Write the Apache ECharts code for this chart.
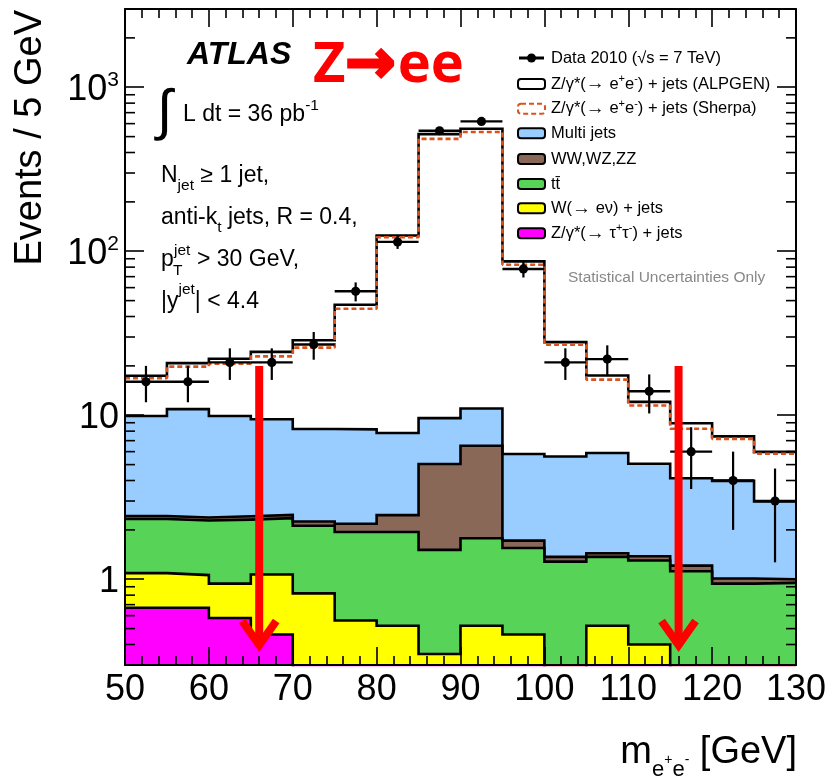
<!DOCTYPE html>
<html>
<head>
<meta charset="utf-8">
<title>Z → ee, N_jet ≥ 1</title>
<script src="https://cdn.jsdelivr.net/npm/echarts@6/dist/echarts.min.js"></script>
<style>
  html, body { margin: 0; padding: 0; background: #ffffff; }
  #main { width: 831px; height: 779px; }
</style>
</head>
<body>
<div id="main"></div>
<script>
// ---- binning (m_ee in GeV, 5 GeV bins) ----
const massEdges = [50, 55, 60, 65, 70, 75, 80, 85, 90, 95, 100, 105, 110, 115, 120, 125, 130];

// ---- observed events per bin ----
const dataCounts = [16, 16, 21, 21, 27, 57, 114, 543, 619, 78, 21, 22, 14, 6, 4, 3];

// ---- expected events per bin, one array per process ----
const zTauTau  = [0.67, 0.67, 0.58, 0.46, 0.22, 0.18, 0.15, 0.12, 0.12, 0.10, 0.08, 0.08, 0.07, 0.06, 0.05, 0.05];
const wJets    = [0.42, 0.39, 0.36, 0.61, 0.60, 0.38, 0.37, 0.23, 0.40, 0.36, 0.16, 0.44, 0.33, 0.16, 0.15, 0.13];
const ttbar    = [1.24, 1.22, 1.37, 1.29, 1.30, 1.38, 1.42, 1.16, 1.26, 1.09, 1.04, 0.85, 0.90, 0.90, 0.74, 0.77];
const diboson  = [0.10, 0.10, 0.11, 0.11, 0.13, 0.24, 0.52, 3.53, 4.73, 0.17, 0.09, 0.07, 0.08, 0.09, 0.07, 0.05];
const multiJet = [7.47, 8.52, 7.48, 6.98, 6.00, 6.02, 5.34, 4.56, 4.49, 4.08, 4.23, 4.44, 3.68, 2.92, 2.97, 1.98];
const zeeAlpgen = [7.5, 9.9, 12.2, 14.9, 20.4, 39.0, 117, 508, 547, 81, 22.3, 11.6, 7.0, 4.8, 3.45, 3.0];
const zeeSherpa = [6.9, 8.9, 10.7, 13.4, 17.6, 36.4, 114, 475, 522, 77, 21.3, 10.6, 6.4, 4.15, 3.2, 2.84];

// ---- axes ----
const X_MIN = 50, X_MAX = 130, X_STEP = 10;
const Y_MIN = 0.3, Y_MAX = 3000;
const yMinorTicks = [0.4, 0.5, 0.6, 0.7, 0.8, 0.9,
                     2, 3, 4, 5, 6, 7, 8, 9,
                     20, 30, 40, 50, 60, 70, 80, 90,
                     200, 300, 400, 500, 600, 700, 800, 900, 2000];

// mass window markers
const massWindow = [66, 116];
const arrowTop = 20, arrowTip = 0.355;

const FONT = "'Liberation Sans', Arial, Helvetica, sans-serif";
const LINE_W = 2.6;

// cumulative stack levels, bottom to top
function addArrays(a, b) { return a.map((v, i) => v + b[i]); }
const lvZtt = zTauTau.slice();
const lvW   = addArrays(lvZtt, wJets);
const lvTt  = addArrays(lvW, ttbar);
const lvVV  = addArrays(lvTt, diboson);
const lvMJ  = addArrays(lvVV, multiJet);
const lvAlp = addArrays(lvMJ, zeeAlpgen);
const lvShp = addArrays(lvMJ, zeeSherpa);

// histogram as step points on the left bin edges, closed at the last edge
function stepData(levels) {
  const pts = levels.map((v, i) => [massEdges[i], v]);
  pts.push([massEdges[massEdges.length - 1], levels[levels.length - 1]]);
  return pts;
}
const binCenters = dataCounts.map((_, i) => (massEdges[i] + massEdges[i + 1]) / 2);

function histSeries(name, levels, fill) {
  return {
    name: name, type: 'line', step: 'end', xAxisIndex: 0, yAxisIndex: 0,
    data: stepData(levels), symbol: 'none', silent: true, clip: true,
    lineStyle: { color: '#000', width: LINE_W, join: 'miter' },
    areaStyle: { color: fill, opacity: 1, origin: 'start' },
    z: 2
  };
}

const axisLineStyle = { color: '#000', width: 2 };
const tickStyle = { color: '#000', width: 1.6 };

function xAxisDef(pos, showLabel) {
  return {
    type: 'value', position: pos, min: X_MIN, max: X_MAX, interval: X_STEP, z: 10,
    axisLine: { show: true, onZero: false, lineStyle: axisLineStyle },
    axisTick: { show: true, inside: true, length: 18, lineStyle: tickStyle },
    minorTick: { show: true, splitNumber: 5, length: 9, lineStyle: tickStyle },
    splitLine: { show: false }, minorSplitLine: { show: false },
    axisLabel: { show: showLabel, fontSize: 36, fontFamily: FONT, color: '#000', margin: 7 }
  };
}
function yLabel(value) {
  const lg = Math.log10(value);
  const e = Math.round(lg);
  if (Math.abs(lg - e) > 1e-6) return '';
  if (e === 0) return '{b|1}';
  if (e === 1) return '{b|10}';
  return '{b|10}{s|' + e + '}';
}
function yAxisDef(pos, showLabel) {
  return {
    type: 'log', logBase: 10, position: pos, min: Y_MIN, max: Y_MAX, z: 10,
    axisLine: { show: true, onZero: false, lineStyle: axisLineStyle },
    axisTick: { show: true, inside: true, length: 19, lineStyle: tickStyle },
    minorTick: { show: false }, splitLine: { show: false }, minorSplitLine: { show: false },
    axisLabel: {
      show: showLabel, formatter: yLabel, margin: 6, padding: [6, 0, 0, 0],
      rich: {
        b: { fontSize: 36, lineHeight: 40, fontFamily: FONT, color: '#000' },
        s: { fontSize: 21, lineHeight: 21, padding: [0, 0, 20, 0], fontFamily: FONT, color: '#000' }
      }
    }
  };
}

// rich-text helpers: shifted tokens for super- and subscripts
function tok(size, offset, extra) {
  const t = { fontSize: size, lineHeight: size, fontFamily: FONT, fill: '#000',
              padding: offset >= 0 ? [2 * offset, 0, 0, 0] : [0, 0, -2 * offset, 0] };
  return Object.assign(t, extra || {});
}
function txt(x, y, text, opts) {
  opts = opts || {};
  return {
    type: 'text', x: x, y: y, z: 100, silent: true,
    rotation: opts.rotation || 0,
    style: {
      text: text, fontSize: opts.size || 23, fontFamily: opts.family || FONT,
      fontWeight: opts.weight || 'normal', fontStyle: opts.style || 'normal',
      fill: opts.color || '#000', lineHeight: opts.lineHeight || 44,
      textAlign: opts.align || 'left', textVerticalAlign: 'middle',
      rich: opts.rich || {}
    }
  };
}

const plotRich = {
  sub: tok(15.5, 10),
  sup: tok(15.5, -9),
  supj: tok(15.5, -12)
};
const legRich = { sup: tok(11, -5), ar: { fontSize: 19, lineHeight: 24, fontFamily: FONT, fill: '#000' } };

// legend
const LEG_X = 518, LEG_TX = 551;
const legendRows = [
  { y: 58,    kind: 'data',   text: 'Data 2010 (√s = 7 TeV)' },
  { y: 84,    kind: 'box', fill: '#ffffff', stroke: '#000', text: 'Z/γ*({ar|→} e{sup|+}e{sup|-}) + jets (ALPGEN)' },
  { y: 108.7, kind: 'box', fill: '#ffffff', stroke: '#d9531e', dash: [5, 3], text: 'Z/γ*({ar|→} e{sup|+}e{sup|-}) + jets (Sherpa)' },
  { y: 133.3, kind: 'box', fill: '#99ccff', stroke: '#000', text: 'Multi jets' },
  { y: 159,   kind: 'box', fill: '#8a6858', stroke: '#000', text: 'WW,WZ,ZZ' },
  { y: 184,   kind: 'box', fill: '#57d357', stroke: '#000', text: 'tt\u0304' },
  { y: 208.3, kind: 'box', fill: '#ffff00', stroke: '#000', text: 'W({ar|→} eν) + jets' },
  { y: 233.3, kind: 'box', fill: '#ff00ff', stroke: '#000', text: 'Z/γ*({ar|→} τ{sup|+}τ{sup|-}) + jets' }
];
const legendEls = [];
legendRows.forEach(function (r) {
  if (r.kind === 'data') {
    legendEls.push({ type: 'line', z: 100, shape: { x1: LEG_X + 1, y1: r.y, x2: LEG_X + 26, y2: r.y },
                     style: { stroke: '#000', lineWidth: 3 } });
    legendEls.push({ type: 'circle', z: 100, shape: { cx: LEG_X + 13.5, cy: r.y, r: 4.5 }, style: { fill: '#000' } });
  } else {
    legendEls.push({ type: 'rect', z: 100, shape: { x: LEG_X, y: r.y - 5, width: 27, height: 10, r: 3 },
                     style: { fill: r.fill, stroke: r.stroke, lineWidth: 2, lineDash: r.dash || null } });
  }
  legendEls.push(txt(LEG_TX, r.y, r.text, { size: 16.5, lineHeight: 24, rich: legRich }));
});

const option = {
  animation: false,
  backgroundColor: '#ffffff',
  grid: { left: 125, right: 35, top: 9, bottom: 114, containLabel: false, outerBoundsMode: 'none' },
  xAxis: [xAxisDef('bottom', true), xAxisDef('top', false)],
  yAxis: [yAxisDef('left', true), yAxisDef('right', false)],
  series: [
    histSeries('Z/γ*(→ ee) + jets (ALPGEN)', lvAlp, '#ffffff'),
    histSeries('Multi jets', lvMJ, '#99ccff'),
    histSeries('WW,WZ,ZZ', lvVV, '#8a6858'),
    histSeries('tt̄', lvTt, '#57d357'),
    histSeries('W(→ eν) + jets', lvW, '#ffff00'),
    histSeries('Z/γ*(→ ττ) + jets', lvZtt, '#ff00ff'),
    {
      name: 'Z/γ*(→ ee) + jets (Sherpa)', type: 'line', step: 'end', xAxisIndex: 0, yAxisIndex: 0,
      data: stepData(lvShp), symbol: 'none', silent: true, clip: true, z: 3,
      lineStyle: { color: '#d9531e', width: 2.6, type: [5, 3] }
    },
    {
      name: 'Data 2010', type: 'custom', xAxisIndex: 0, yAxisIndex: 0, z: 4, silent: true, clip: false,
      data: dataCounts.map((n, i) => [binCenters[i], n, massEdges[i], massEdges[i + 1]]),
      encode: { x: 0, y: 1 },
      renderItem: function (params, api) {
        const x = api.value(0), n = api.value(1), x0 = api.value(2), x1 = api.value(3);
        const err = Math.sqrt(n);
        const c = api.coord([x, n]);
        const hi = api.coord([x, n + err]);
        const lo = api.coord([x, Math.max(n - err, Y_MIN)]);
        const l = api.coord([x0, n]), r = api.coord([x1, n]);
        return { type: 'group', children: [
          { type: 'line', shape: { x1: hi[0], y1: hi[1], x2: lo[0], y2: lo[1] }, style: { stroke: '#000', lineWidth: 2.2 } },
          { type: 'line', shape: { x1: l[0], y1: l[1], x2: r[0], y2: r[1] }, style: { stroke: '#000', lineWidth: 2.4 } },
          { type: 'circle', shape: { cx: c[0], cy: c[1], r: 4.6 }, style: { fill: '#000' } }
        ] };
      }
    },
    {
      name: 'yMinorTicks', type: 'custom', xAxisIndex: 0, yAxisIndex: 0, z: 11, silent: true, clip: false,
      data: yMinorTicks.map(v => [X_MIN, v]),
      encode: { x: 0, y: 1 },
      renderItem: function (params, api) {
        const v = api.value(1);
        const l = api.coord([X_MIN, v]), r = api.coord([X_MAX, v]);
        return { type: 'group', children: [
          { type: 'line', shape: { x1: l[0], y1: l[1], x2: l[0] + 10, y2: l[1] }, style: { stroke: '#000', lineWidth: 1.6 } },
          { type: 'line', shape: { x1: r[0] - 10, y1: r[1], x2: r[0], y2: r[1] }, style: { stroke: '#000', lineWidth: 1.6 } }
        ] };
      }
    },
    {
      name: 'massWindow', type: 'custom', xAxisIndex: 0, yAxisIndex: 0, z: 20, silent: true, clip: false,
      data: massWindow.map(m => [m, arrowTop, arrowTip]),
      encode: { x: 0, y: 1 },
      renderItem: function (params, api) {
        const m = api.value(0);
        const top = api.coord([m, api.value(1)]);
        const tip = api.coord([m, api.value(2)]);
        const vx = tip[0], vy = tip[1] - 8;
        return { type: 'group', children: [
          { type: 'line', shape: { x1: top[0], y1: top[1], x2: vx, y2: vy }, style: { stroke: '#ff0000', lineWidth: 8, lineCap: 'butt' } },
          { type: 'polyline', shape: { points: [[vx - 17, vy - 24], [vx, vy], [vx + 17, vy - 24]] },
            style: { stroke: '#ff0000', lineWidth: 8, lineJoin: 'miter', lineCap: 'butt', fill: null } }
        ] };
      }
    }
  ],
  graphic: { elements: [
    // axis titles
    txt(30.5, 10, 'Events / 5 GeV', { size: 38, rotation: Math.PI / 2, align: 'right', lineHeight: 40 }),
    txt(797, 753, 'm{s1|e}{s2|+}{s1|e}{s2|-} [GeV]', { size: 38, align: 'right', lineHeight: 60,
      rich: { s1: tok(22, 17), s2: tok(14, 7) } }),
    // experiment and channel labels
    txt(187, 55, 'ATLAS', { size: 32, weight: 'bold', style: 'italic' }),
    txt(313, 66, '{z|Z}{a|→}{z|ee}', { size: 56, lineHeight: 70, rich: {
      z: { fontSize: 56, lineHeight: 70, fontFamily: "'Open Sans', sans-serif", fontWeight: 'bold', fill: '#ff0000' },
      a: { fontSize: 60, lineHeight: 70, fontFamily: "'DejaVu Sans', sans-serif", fontWeight: 'bold',
           fill: '#ff0000', stroke: '#ff0000', lineWidth: 3, padding: [0, 2, 0, 0] }
    } }),
    // selection text
    txt(157, 114, '∫', { size: 56, lineHeight: 64 }),
    txt(183, 115, 'L dt = 36 pb{sup|-1}', { rich: plotRich }),
    txt(161, 176, 'N{sub|jet} ≥ 1 jet,', { rich: plotRich }),
    txt(161, 218, 'anti-k{sub|t} jets, R = 0.4,', { rich: plotRich }),
    txt(161, 259.5, 'p'),
    txt(174, 250.7, 'jet', { size: 15.5 }),
    txt(173, 270.7, 'T', { size: 15.5 }),
    txt(197, 259.5, '> 30 GeV,'),
    txt(161, 301.7, '|y{supj|jet}| < 4.4', { rich: plotRich }),
    txt(568, 277.5, 'Statistical Uncertainties Only', { size: 15.5, color: '#888888', lineHeight: 20 })
  ].concat(legendEls) }
};

const chart = echarts.init(document.getElementById('main'), null, { renderer: 'canvas' });
chart.setOption(option);
</script>
</body>
</html>
